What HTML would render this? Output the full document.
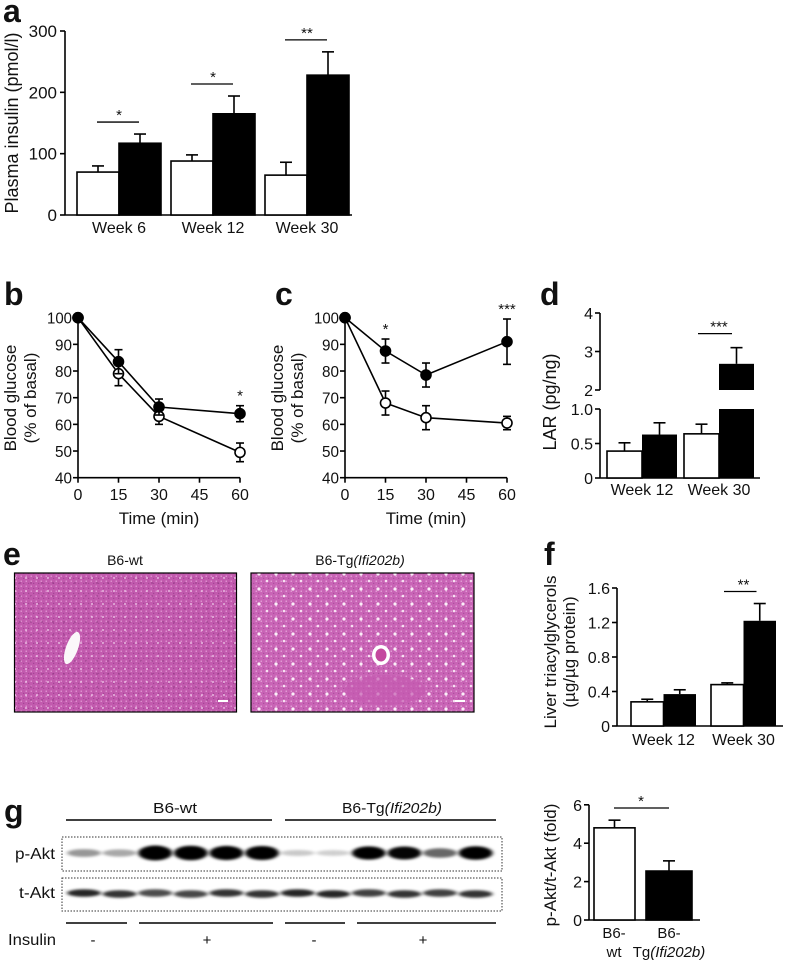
<!DOCTYPE html>
<html><head><meta charset="utf-8">
<style>
html,body{margin:0;padding:0;background:#fff;}
svg{display:block;font-family:"Liberation Sans",Arial,sans-serif;}
text{fill:#111;}
</style></head>
<body>
<svg id="fig" width="787" height="964" viewBox="0 0 787 964" xmlns="http://www.w3.org/2000/svg">
<defs>
  <filter id="blur2" x="-30%" y="-100%" width="160%" height="300%"><feGaussianBlur stdDeviation="2.2 1.4"/></filter>
  <pattern id="cellsL" width="5" height="5" patternUnits="userSpaceOnUse">
    <rect width="5" height="5" fill="#c25aae"/>
    <circle cx="1.2" cy="1.2" r="0.7" fill="#e7a6db"/>
    <circle cx="3.7" cy="3.4" r="0.6" fill="#9c3f8e"/>
  </pattern>
  <pattern id="cellsL2" width="11" height="13" patternUnits="userSpaceOnUse">
    <circle cx="4" cy="6" r="0.9" fill="#f3d2ee"/>
    <circle cx="9" cy="11" r="0.7" fill="#8d3480"/>
  </pattern>
  <pattern id="cellsR" width="5" height="5" patternUnits="userSpaceOnUse">
    <rect width="5" height="5" fill="#c964b6"/>
    <circle cx="1.2" cy="1.2" r="0.7" fill="#eab3e0"/>
    <circle cx="3.7" cy="3.4" r="0.6" fill="#a54a97"/>
  </pattern>
  <pattern id="vacR" width="17" height="15" patternUnits="userSpaceOnUse">
    <circle cx="4" cy="4" r="1.6" fill="#fbeef8"/>
    <circle cx="12" cy="11" r="1.3" fill="#f7e0f2"/>
  </pattern>
</defs>
<g id="root"></g>
</svg>
<script>
// ---------- Data ----------
const aCategories = ['Week 6', 'Week 12', 'Week 30'];
const aWhite = [70, 88, 65];
const aWhiteErr = [10, 10, 21];
const aBlack = [117, 165, 228];
const aBlackErr = [15, 29, 38];
const aTicks = [0, 100, 200, 300];

const timePoints = [0, 15, 30, 60];
const timeTicks = [0, 15, 30, 45, 60];
const glucTicks = [40, 50, 60, 70, 80, 90, 100];
const bFilled = [100, 83.5, 66.5, 64];
const bFilledErr = [0, 4.5, 3, 3];
const bOpen = [100, 79, 63, 49.5];
const bOpenErr = [0, 4.5, 3, 3.5];
const cFilled = [100, 87.5, 78.5, 91];
const cFilledErr = [0, 4.5, 4.5, 8.5];
const cOpen = [100, 68, 62.5, 60.5];
const cOpenErr = [0, 4.5, 4.5, 2.5];

const dCategories = ['Week 12', 'Week 30'];
const dWhite = [0.39, 0.64];
const dWhiteErr = [0.12, 0.14];
const dBlack = [0.63, 2.68];
const dBlackErr = [0.17, 0.42];
const dLowTicks = ['0', '0.5', '1.0'];
const dLowTickVals = [0, 0.5, 1.0];
const dHighTickVals = [2, 3, 4];

const fCategories = ['Week 12', 'Week 30'];
const fWhite = [0.28, 0.48];
const fWhiteErr = [0.03, 0.02];
const fBlack = [0.37, 1.22];
const fBlackErr = [0.05, 0.2];
const fTickVals = [0, 0.4, 0.8, 1.2, 1.6];
const fTickLabels = ['0', '0.4', '0.8', '1.2', '1.6'];

const gValues = [4.8, 2.55];
const gErr = [0.4, 0.53];
const gTicks = [0, 2, 4, 6];

const pAktIntensity = [0.28, 0.22, 1, 0.95, 0.92, 0.9, 0.1, 0.08, 0.82, 0.8, 0.45, 0.85];
const tAktIntensity = [0.85, 0.8, 0.7, 0.72, 0.8, 0.8, 0.85, 0.85, 0.75, 0.8, 0.75, 0.8];

// ---------- helpers ----------
const NS = 'http://www.w3.org/2000/svg';
const root = document.getElementById('root');
function mk(tag, attrs, parent) {
  const e = document.createElementNS(NS, tag);
  for (const k in attrs) e.setAttribute(k, attrs[k]);
  (parent || root).appendChild(e);
  return e;
}
function txt(s, x, y, size, anchor, parent, extra) {
  const t = mk('text', Object.assign({x: x, y: y, 'font-size': size, 'text-anchor': anchor || 'middle'}, extra || {}), parent);
  t.textContent = s;
  return t;
}
function line(x1, y1, x2, y2, parent, w) {
  return mk('line', {x1: x1, y1: y1, x2: x2, y2: y2, stroke: '#000', 'stroke-width': w || 1.6}, parent);
}
function errUp(xc, yTop, yBar, parent) {
  const g = mk('g', {}, parent);
  line(xc, yBar, xc, yTop, g);
  line(xc - 6, yTop, xc + 6, yTop, g);
  return g;
}
function letter(s, x, y) {
  const t = txt(s, x, y, 32, 'start', root, {'font-weight': 'bold'});
  
  
}

// ---------- Panel a ----------
(function () {
  const g = mk('g', {});
  
  
  const y = v => 215 - v * (184 / 300);
  const gx = i => 77 + i * 94;
  const bw = 42;
  line(65, 215, 352, 215, g);
  line(65, 31, 65, 215, g);
  aTicks.forEach(v => {
    line(60, y(v), 65, y(v), g);
    const t = txt(String(v), 57, y(v) + 6, 17, 'end', g);
    
    
  });
  aCategories.forEach((c, i) => {
    const wx = gx(i), bx = gx(i) + bw;
    errUp(wx + bw / 2, y(aWhite[i] + aWhiteErr[i]), y(aWhite[i]), g);
    const wb = mk('rect', {x: wx, y: y(aWhite[i]), width: bw, height: 215 - y(aWhite[i]), fill: '#fff', stroke: '#000', 'stroke-width': 1.6}, g);
    
    
    errUp(bx + bw / 2, y(aBlack[i] + aBlackErr[i]), y(aBlack[i]), g);
    const bb = mk('rect', {x: bx, y: y(aBlack[i]), width: bw, height: 215 - y(aBlack[i]), fill: '#000', stroke: '#000', 'stroke-width': 1.6}, g);
    
    
    const lab = txt(c, wx + bw, 233, 16, 'middle', g);
    
    
    const top = Math.max(aWhite[i] + aWhiteErr[i], aBlack[i] + aBlackErr[i]);
    const sy = y(top) - 12;
    line(wx + 20, sy, bx + 20, sy, g, 1.3);
    const st = txt(['*', '*', '**'][i], wx + bw, sy - 2, 15, 'middle', g);
    
    
  });
  const yt = txt('Plasma insulin (pmol/l)', 0, 0, 18, 'middle', g, {transform: 'translate(18,123) rotate(-90)'});
  
  
})();
letter('a', 3, 22);

// ---------- Panels b & c ----------
function linePanel(name, x0, filled, filledErr, open, openErr, stars) {
  const g = mk('g', {});
  
  
  const xs = t => x0 + t * 2.7;
  const ys = v => 477.7 - (v - 40) * 2.667;
  line(x0, ys(40), xs(60), ys(40), g);
  line(x0, ys(40), x0, ys(100), g);
  glucTicks.forEach(v => {
    line(x0 - 5, ys(v), x0, ys(v), g);
    const t = txt(String(v), x0 - 6, ys(v) + 6, 16, 'end', g, {textLength: v === 100 ? 25 : 17, lengthAdjust: 'spacingAndGlyphs'});
    
    
  });
  timeTicks.forEach(t0 => {
    line(xs(t0), ys(40), xs(t0), ys(40) + 5, g);
    const t = txt(String(t0), xs(t0), 500, 16, 'middle', g);
    
    
  });
  const xt = txt('Time (min)', xs(30), 524, 17, 'middle', g);
  
  
  const yt1 = txt('Blood glucose', 0, 0, 17, 'middle', g, {transform: 'translate(' + (x0 - 62) + ',398) rotate(-90)'});
  
  
  const yt2 = txt('(% of basal)', 0, 0, 17, 'middle', g, {transform: 'translate(' + (x0 - 42) + ',398) rotate(-90)'});
  
  
  [[open, openErr, '#fff', 'open'], [filled, filledErr, '#000', 'filled']].forEach(s => {
    const vals = s[0], errs = s[1];
    const pts = timePoints.map((t, i) => xs(t) + ',' + ys(vals[i])).join(' ');
    const pl = mk('polyline', {points: pts, fill: 'none', stroke: '#000', 'stroke-width': 1.6}, g);
    
    
    timePoints.forEach((t, i) => {
      if (errs[i] > 0) {
        line(xs(t), ys(vals[i] - errs[i]), xs(t), ys(vals[i] + errs[i]), g);
        line(xs(t) - 4, ys(vals[i] - errs[i]), xs(t) + 4, ys(vals[i] - errs[i]), g);
        line(xs(t) - 4, ys(vals[i] + errs[i]), xs(t) + 4, ys(vals[i] + errs[i]), g);
      }
      const c = mk('circle', {cx: xs(t), cy: ys(vals[i]), r: 5, fill: s[2], stroke: '#000', 'stroke-width': 1.6}, g);
      
      
    });
  });
  stars.forEach(st => {
    const i = st[0];
    const t = txt(st[1], xs(timePoints[i]), ys(filled[i] + filledErr[i]) - 5, 15, 'middle', g);
    
    
  });
}
linePanel('panel-b-glucose-chart', 78, bFilled, bFilledErr, bOpen, bOpenErr, [[3, '*']]);
linePanel('panel-c-glucose-chart', 345, cFilled, cFilledErr, cOpen, cOpenErr, [[1, '*'], [3, '***']]);
letter('b', 4, 305);
letter('c', 275, 305);

// ---------- Panel d ----------
(function () {
  const g = mk('g', {});
  
  
  const yL = v => 478 - v * 69;
  const yU = v => 390 - (v - 2) * 38.5;
  const yv = v => v <= 1 ? yL(v) : yU(v);
  line(600, 478, 760, 478, g);
  line(600, yL(0), 600, yL(1), g);
  line(600, yU(2), 600, yU(4), g);
  dLowTickVals.forEach((v, i) => {
    line(595, yL(v), 600, yL(v), g);
    const t = txt(dLowTicks[i], 593, yL(v) + 6, 16, 'end', g);
    
    
  });
  dHighTickVals.forEach(v => {
    line(595, yU(v), 600, yU(v), g);
    const t = txt(String(v), 593, yU(v) + 6, 16, 'end', g);
    
    
  });
  const gx = i => 607 + i * 77, bw = 35;
  dCategories.forEach((c, i) => {
    const wx = gx(i), bx = gx(i) + bw;
    errUp(wx + bw / 2, yv(dWhite[i] + dWhiteErr[i]), yv(dWhite[i]), g);
    const wb = mk('rect', {x: wx, y: yL(dWhite[i]), width: bw, height: 478 - yL(dWhite[i]), fill: '#fff', stroke: '#000', 'stroke-width': 1.6}, g);
    
    
    errUp(bx + bw / 2, yv(dBlack[i] + dBlackErr[i]), yv(dBlack[i]), g);
    if (dBlack[i] <= 1) {
      const bb = mk('rect', {x: bx, y: yL(dBlack[i]), width: bw, height: 478 - yL(dBlack[i]), fill: '#000'}, g);
      
      
    } else {
      const bb = mk('rect', {x: bx, y: yL(1), width: bw, height: 478 - yL(1), fill: '#000'}, g);
      
      
      const bu = mk('rect', {x: bx, y: yU(dBlack[i]), width: bw, height: yU(2) - yU(dBlack[i]), fill: '#000'}, g);
      
      
    }
    const lab = txt(c, wx + bw, 495, 16, 'middle', g);
    
    
  });
  const top = yv(dBlack[1] + dBlackErr[1]) - 14;
  line(gx(1) + 14, top, gx(1) + bw + 13, top, g, 1.3);
  const st = txt('***', gx(1) + bw, top - 2, 15, 'middle', g);
  
  
  const yt = txt('LAR (pg/ng)', 0, 0, 18, 'middle', g, {transform: 'translate(556,402) rotate(-90)'});
  
  
})();
letter('d', 540, 305);

// ---------- Panel e (histology) ----------
(function () {
  const g = mk('g', {});
  
  
  const t1 = txt('B6-wt', 125, 565, 14, 'middle', g);
  
  
  const t2 = txt('', 360, 565, 14, 'middle', g);
  t2.innerHTML = 'B6-Tg<tspan font-style="italic">(Ifi202b)</tspan>';
  
  
  const r1 = mk('rect', {x: 14.5, y: 573, width: 222, height: 139, fill: 'url(#cellsL)', stroke: '#000', 'stroke-width': 1.2}, g);
  
  
  mk('rect', {x: 15, y: 573.5, width: 221, height: 138, fill: 'url(#cellsL2)'}, g);
  mk('ellipse', {cx: 72, cy: 648, rx: 6, ry: 17, transform: 'rotate(20 72 648)', fill: '#fbf7fa'}, g);
  mk('rect', {x: 218, y: 700, width: 10, height: 2, fill: '#fff'}, g);
  const r2 = mk('rect', {x: 251, y: 573, width: 223, height: 139, fill: 'url(#cellsR)', stroke: '#000', 'stroke-width': 1.2}, g);
  
  
  mk('rect', {x: 251.5, y: 573.5, width: 222, height: 138, fill: 'url(#vacR)'}, g);
  mk('ellipse', {cx: 385, cy: 690, rx: 40, ry: 15, fill: '#c45ab0', 'fill-opacity': 0.7}, g);
  mk('ellipse', {cx: 381, cy: 655, rx: 9, ry: 10, fill: '#fff'}, g);
  mk('ellipse', {cx: 381, cy: 655, rx: 5.5, ry: 6.5, fill: '#c4489e'}, g);
  mk('rect', {x: 455, y: 700, width: 10, height: 2, fill: '#fff'}, g);
})();
letter('e', 3, 565);

// ---------- Panel f ----------
(function () {
  const g = mk('g', {});
  
  
  const y = v => 726 - v * 86.25;
  line(617, 726, 783, 726, g);
  line(617, y(0), 617, y(1.6), g);
  fTickVals.forEach((v, i) => {
    line(612, y(v), 617, y(v), g);
    const t = txt(fTickLabels[i], 610, y(v) + 6, 16, 'end', g);
    
    
  });
  const gx = i => 631 + i * 80, bw = 32.5;
  fCategories.forEach((c, i) => {
    const wx = gx(i), bx = gx(i) + bw;
    errUp(wx + bw / 2, y(fWhite[i] + fWhiteErr[i]), y(fWhite[i]), g);
    const wb = mk('rect', {x: wx, y: y(fWhite[i]), width: bw, height: 726 - y(fWhite[i]), fill: '#fff', stroke: '#000', 'stroke-width': 1.6}, g);
    
    
    errUp(bx + bw / 2, y(fBlack[i] + fBlackErr[i]), y(fBlack[i]), g);
    const bb = mk('rect', {x: bx, y: y(fBlack[i]), width: bw, height: 726 - y(fBlack[i]), fill: '#000'}, g);
    
    
    const lab = txt(c, wx + bw, 745, 16, 'middle', g);
    
    
  });
  const top = y(fBlack[1] + fBlackErr[1]) - 12;
  line(gx(1) + 13, top, gx(1) + bw + 13, top, g, 1.3);
  const st = txt('**', gx(1) + bw, top - 2, 15, 'middle', g);
  
  
  const yt1 = txt('Liver triacylglycerols', 0, 0, 17, 'middle', g, {transform: 'translate(556,652) rotate(-90)'});
  
  
  const yt2 = txt('(µg/µg protein)', 0, 0, 17, 'middle', g, {transform: 'translate(575,652) rotate(-90)'});
  
  
})();
letter('f', 544, 565);

// ---------- Panel g (western blot) ----------
(function () {
  const g = mk('g', {});
  
  
  const h1 = txt('B6-wt', 175, 813, 15, 'middle', g, {textLength: 44, lengthAdjust: 'spacingAndGlyphs'});
  
  
  const h2 = txt('', 392, 813, 15, 'middle', g, {textLength: 100, lengthAdjust: 'spacingAndGlyphs'});
  h2.innerHTML = 'B6-Tg<tspan font-style="italic">(Ifi202b)</tspan>';
  
  
  line(66, 820, 272, 820, g, 1.4);
  line(285, 820, 496, 820, g, 1.4);
  const b1 = mk('rect', {x: 62, y: 837, width: 440, height: 34, fill: '#fff', stroke: '#333', 'stroke-width': 1, 'stroke-dasharray': '1.5 1.5'}, g);
  
  
  const b2 = mk('rect', {x: 62, y: 878, width: 440, height: 33, fill: '#fff', stroke: '#333', 'stroke-width': 1, 'stroke-dasharray': '1.5 1.5'}, g);
  
  
  const l1 = txt('p-Akt', 55, 859, 16, 'end', g, {textLength: 40, lengthAdjust: 'spacingAndGlyphs'});
  
  
  const l2 = txt('t-Akt', 55, 898, 16, 'end', g, {textLength: 36, lengthAdjust: 'spacingAndGlyphs'});
  
  
  const laneX = i => 84 + i * 35.6;
  pAktIntensity.forEach((v, i) => {
    const e = mk('ellipse', {cx: laneX(i), cy: 853, rx: 17, ry: 2.5 + 5 * v, fill: '#000', 'fill-opacity': Math.min(1, 0.1 + v * 1.1), filter: 'url(#blur2)'}, g);
    
    
  });
  tAktIntensity.forEach((v, i) => {
    const e = mk('ellipse', {cx: laneX(i), cy: 893 + (i % 2 ? 1 : 0), rx: 17, ry: 3.8, fill: '#000', 'fill-opacity': v, filter: 'url(#blur2)'}, g);
    
    
  });
  [[66, 127], [139, 273], [285, 345], [357, 496]].forEach(s => line(s[0], 923, s[1], 923, g, 1.4));
  const ins = txt('Insulin', 8, 945, 16, 'start', g, {textLength: 48, lengthAdjust: 'spacingAndGlyphs'});
  
  
  [[93, '-'], [207, '+'], [314, '-'], [423, '+']].forEach(s => {
    const t = txt(s[1], s[0], 945, 15, 'middle', g);
    
    
  });
})();
letter('g', 4, 822);

// ---------- Panel g bar chart ----------
(function () {
  const g = mk('g', {});
  
  
  const y = v => 920 - v * 19.2;
  line(589, 920, 700, 920, g);
  line(589, y(0), 589, y(6), g);
  gTicks.forEach(v => {
    line(584, y(v), 589, y(v), g);
    const t = txt(String(v), 582, y(v) + 6, 16, 'end', g);
    
    
  });
  const xs = [594, 646], ws = [41, 46];
  const fills = ['#fff', '#000'];
  gValues.forEach((v, i) => {
    errUp(xs[i] + ws[i] / 2, y(v + gErr[i]), y(v), g);
    const r = mk('rect', {x: xs[i], y: y(v), width: ws[i], height: 920 - y(v), fill: fills[i], stroke: '#000', 'stroke-width': 1.6}, g);
    
    
  });
  line(614, 808, 669, 808, g, 1.3);
  const st = txt('*', 641, 806, 15, 'middle', g);
  
  
  const x1 = txt('B6-', 614, 938, 15, 'middle', g);
  
  
  const x1b = txt('wt', 614, 957, 15, 'middle', g);
  
  
  const x2 = txt('B6-', 669, 938, 15, 'middle', g);
  
  
  const x2b = txt('', 669, 957, 15, 'middle', g);
  x2b.innerHTML = 'Tg<tspan font-style="italic">(Ifi202b)</tspan>';
  
  
  const yt = txt('p-Akt/t-Akt (fold)', 0, 0, 17, 'middle', g, {transform: 'translate(556,865) rotate(-90)'});
  
  
})();
</script>
</body></html>
